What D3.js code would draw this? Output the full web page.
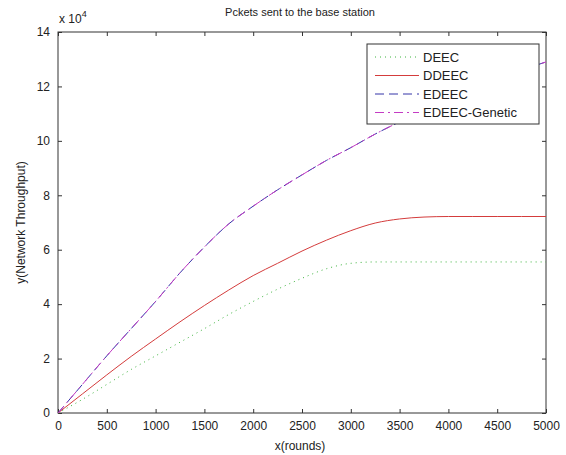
<!DOCTYPE html>
<html>
<head>
<meta charset="utf-8">
<script src="https://cdn.jsdelivr.net/npm/d3@7"></script>
<style>
  body { margin: 0; background: #fff; }
  text { font-family: "Liberation Sans", Arial, sans-serif; fill: #222; }
</style>
</head>
<body>
<div id="chart"></div>
<script>
const rounds = [0, 250, 500, 750, 1000, 1250, 1500, 1750, 2000, 2250, 2500, 2750, 3000, 3250, 3500, 3750, 4000, 4250, 4500, 4750, 5000];
const deec = [0, 0.5, 1.05, 1.6, 2.1, 2.6, 3.1, 3.62, 4.1, 4.55, 4.95, 5.3, 5.5, 5.55, 5.55, 5.55, 5.55, 5.55, 5.55, 5.55, 5.55];
const ddeec = [0, 0.7, 1.4, 2.08, 2.72, 3.35, 3.95, 4.52, 5.05, 5.5, 5.95, 6.35, 6.7, 6.98, 7.13, 7.2, 7.22, 7.22, 7.22, 7.22, 7.22];
const edeec = [0, 1.05, 2.1, 3.1, 4.1, 5.15, 6.1, 6.95, 7.6, 8.2, 8.75, 9.28, 9.75, 10.25, 10.7, 11.15, 11.6, 12.0, 12.3, 12.6, 12.9];
const edeecGenetic = [0, 1.05, 2.1, 3.1, 4.1, 5.15, 6.1, 6.95, 7.6, 8.2, 8.75, 9.28, 9.75, 10.25, 10.7, 11.15, 11.6, 12.0, 12.3, 12.6, 12.9];
const xTicks = [0, 500, 1000, 1500, 2000, 2500, 3000, 3500, 4000, 4500, 5000];
const yTicks = [0, 2, 4, 6, 8, 10, 12, 14];

const series = [
    { name: 'DEEC', values: deec, color: '#3cb33c', dash: '1,4' },
    { name: 'DDEEC', values: ddeec, color: '#d43c3c', dash: null },
    { name: 'EDEEC', values: edeec, color: '#3434a8', dash: '9,5' },
    { name: 'EDEEC-Genetic', values: edeecGenetic, color: '#c43cc4', dash: '9,4,2,4' }
];

const width = 566, height = 455;
const margin = { top: 32, right: 20, bottom: 42, left: 58 };

const svg = d3.select('#chart').append('svg')
    .attr('width', width)
    .attr('height', height);

const x = d3.scaleLinear().domain([0, 5000]).range([margin.left, width - margin.right]);
const y = d3.scaleLinear().domain([0, 14]).range([height - margin.bottom, margin.top]);

const axisColor = '#333';

// box
svg.append('rect')
    .attr('x', x(0)).attr('y', y(14))
    .attr('width', x(5000) - x(0)).attr('height', y(0) - y(14))
    .attr('fill', 'none').attr('stroke', axisColor);

function styleAxis(g) {
    g.select('.domain').remove();
    g.selectAll('.tick line').attr('stroke', axisColor);
    g.selectAll('.tick text').style('font-size', '12px').attr('fill', '#222');
}

svg.append('g')
    .attr('transform', `translate(0,${y(0)})`)
    .call(d3.axisBottom(x).tickValues(xTicks).tickFormat(d3.format('d')).tickSizeInner(-4).tickSizeOuter(0).tickPadding(8))
    .call(styleAxis);

svg.append('g')
    .attr('transform', `translate(0,${y(14)})`)
    .call(d3.axisTop(x).tickValues(xTicks).tickSizeInner(-4).tickSizeOuter(0).tickFormat(''))
    .call(styleAxis);

svg.append('g')
    .attr('transform', `translate(${x(0)},0)`)
    .call(d3.axisLeft(y).tickValues(yTicks).tickSizeInner(-4).tickSizeOuter(0).tickPadding(8))
    .call(styleAxis);

svg.append('g')
    .attr('transform', `translate(${x(5000)},0)`)
    .call(d3.axisRight(y).tickValues(yTicks).tickSizeInner(-4).tickSizeOuter(0).tickFormat(''))
    .call(styleAxis);

// lines
const line = d3.line()
    .x((d, i) => x(rounds[i]))
    .y(d => y(d))
    .curve(d3.curveMonotoneX);

svg.append('g')
    .selectAll('path')
    .data(series)
    .join('path')
    .attr('d', d => line(d.values))
    .attr('fill', 'none')
    .attr('stroke', d => d.color)
    .attr('stroke-width', 1)
    .attr('stroke-dasharray', d => d.dash);

// legend
const legend = svg.append('g').attr('transform', 'translate(367,44)');
legend.append('rect')
    .attr('width', 172).attr('height', 80)
    .attr('fill', '#fff').attr('stroke', axisColor);

const item = legend.selectAll('g.item')
    .data(series)
    .join('g')
    .attr('class', 'item')
    .attr('transform', (d, i) => `translate(0,${13 + i * 18.5})`);

item.append('line')
    .attr('x1', 8).attr('x2', 52)
    .attr('stroke', d => d.color)
    .attr('stroke-dasharray', d => d.dash);

item.append('text')
    .attr('x', 56).attr('dy', '0.36em')
    .style('font-size', '13px')
    .text(d => d.name);

// titles
svg.append('text')
    .attr('x', 300).attr('y', 16)
    .attr('text-anchor', 'middle')
    .style('font-size', '11px')
    .text('Pckets sent to the base station');

svg.append('text')
    .attr('x', 300).attr('y', 450)
    .attr('text-anchor', 'middle')
    .style('font-size', '12px')
    .text('x(rounds)');

svg.append('text')
    .attr('transform', `translate(25,${(y(0) + y(14)) / 2}) rotate(-90)`)
    .attr('text-anchor', 'middle')
    .style('font-size', '12px')
    .text('y(Network Throughput)');

const expo = svg.append('text')
    .attr('x', 59).attr('y', 23)
    .style('font-size', '12px');
expo.append('tspan').text('x 10');
expo.append('tspan').attr('dy', -6).style('font-size', '9px').text('4');
</script>
</body>
</html>
